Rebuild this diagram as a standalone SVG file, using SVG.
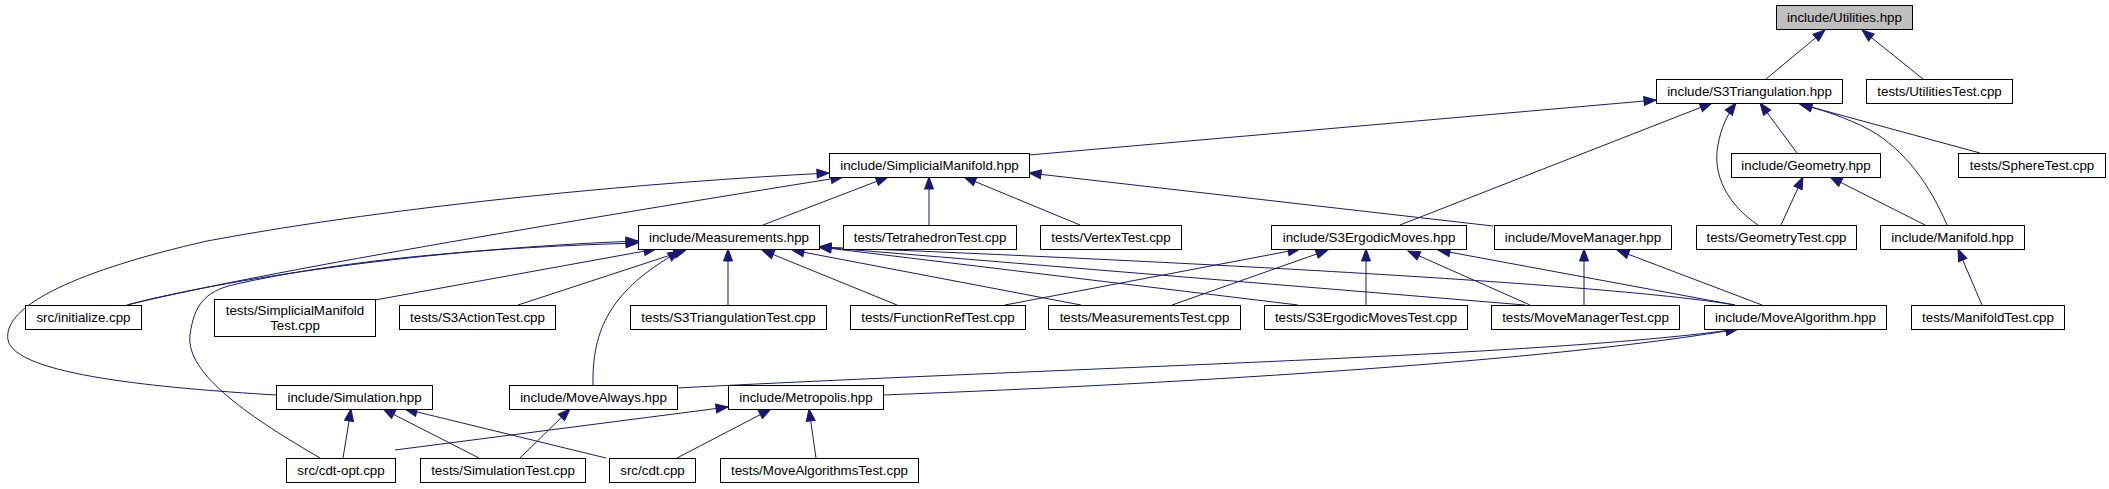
<svg xmlns="http://www.w3.org/2000/svg" width="2109" height="489" viewBox="0 0 2109 489">
<style>
.n rect{fill:#ffffff;stroke:#000000;stroke-width:1}
.n text{font-family:"Liberation Sans",Arial,Helvetica,sans-serif;font-size:13.33px;fill:#000000;text-anchor:middle}
#node-utilities rect{fill:#bfbfbf}
#edges path{fill:none;stroke:#191970;stroke-width:1;marker-end:url(#arr)}
</style>
<defs>
<marker id="arr" viewBox="0 0 12 10" refX="12" refY="5" markerWidth="12" markerHeight="10" markerUnits="userSpaceOnUse" orient="auto" overflow="visible">
<path d="M0,0.5 L12,5 L0,9.5 z" fill="#191970" stroke="#191970" stroke-width="1"/>
</marker>
</defs>
<rect width="2109" height="489" fill="#ffffff"/>
<g id="edges">
<path d="M1766,79 L1825,30"/>
<path d="M1923,79 L1862,30"/>
<path d="M1029,155 L1656,100"/>
<path d="M1400,225 L1712,103"/>
<path d="M1758,225 C1728,205 1712,175 1718,145 C1721,128 1727,115 1736,103"/>
<path d="M1797,153 L1760,103"/>
<path d="M1947,225 C1930,185 1905,150 1870,130 C1845,117 1822,110 1800,104"/>
<path d="M1980,153 L1800,104"/>
<path d="M1781,225 L1803,177"/>
<path d="M1925,225 L1830,177"/>
<path d="M1982,305 L1958,249"/>
<path d="M1493,226 L1029,173"/>
<path d="M1762,305 L1617,250"/>
<path d="M1584,305 L1584,249"/>
<path d="M1735,305 L1438,250"/>
<path d="M1366,305 L1366,249"/>
<path d="M1172,305 L1328,250"/>
<path d="M1005,305 L1300,249"/>
<path d="M1530,305 L1408,251"/>
<path d="M728,305 L728,249"/>
<path d="M897,305 L762,250"/>
<path d="M1081,305 L792,250"/>
<path d="M1298,305 L819,247"/>
<path d="M1525,305 L819,247"/>
<path d="M1735,305 C1600,282 1100,258 819,247"/>
<path d="M518,305 L686,250"/>
<path d="M375,300 L656,249"/>
<path d="M593,385 C592,330 610,290 680,251"/>
<path d="M127,305 C200,285 400,250 638,241"/>
<path d="M320,458 C255,420 185,375 190,335 C194,305 205,292 232,285 C350,258 500,247 638,243"/>
<path d="M127,305 C250,275 500,232 843,177"/>
<path d="M276,395 C160,388 15,375 8,340 C2,305 80,270 207,241 C400,205 650,182 829,173"/>
<path d="M763,225 L888,177"/>
<path d="M929,225 L929,177"/>
<path d="M1080,225 L964,177"/>
<path d="M343,458 L351,409"/>
<path d="M479,458 L383,409"/>
<path d="M606,458 L405,409"/>
<path d="M395,450 L728,407"/>
<path d="M677,458 L771,409"/>
<path d="M816,458 L809,409"/>
<path d="M520,458 L570,409"/>
<path d="M677,388 C1100,366 1550,356 1738,329"/>
<path d="M883,395 C1200,383 1560,360 1738,329"/>
</g>
<g id="node-utilities" class="n"><rect x="1776.5" y="5.5" width="136" height="24"/><text x="1844.5" y="22">include/Utilities.hpp</text></g>
<g id="node-s3triangulation" class="n"><rect x="1656.5" y="79.5" width="186" height="24"/><text x="1749.5" y="96">include/S3Triangulation.hpp</text></g>
<g id="node-utilitiestest" class="n"><rect x="1866.5" y="79.5" width="146" height="24"/><text x="1939.5" y="96">tests/UtilitiesTest.cpp</text></g>
<g id="node-simplicialmanifold" class="n"><rect x="829.5" y="153.5" width="200" height="24"/><text x="929.5" y="170">include/SimplicialManifold.hpp</text></g>
<g id="node-geometry" class="n"><rect x="1731.5" y="153.5" width="149" height="24"/><text x="1806" y="170">include/Geometry.hpp</text></g>
<g id="node-spheretest" class="n"><rect x="1958.5" y="153.5" width="147" height="24"/><text x="2032" y="170">tests/SphereTest.cpp</text></g>
<g id="node-measurements" class="n"><rect x="638.5" y="225.5" width="181" height="24"/><text x="729" y="242">include/Measurements.hpp</text></g>
<g id="node-tetrahedrontest" class="n"><rect x="843.5" y="225.5" width="173" height="24"/><text x="930" y="242">tests/TetrahedronTest.cpp</text></g>
<g id="node-vertextest" class="n"><rect x="1040.5" y="225.5" width="141" height="24"/><text x="1111" y="242">tests/VertexTest.cpp</text></g>
<g id="node-s3ergodicmoves" class="n"><rect x="1271.5" y="225.5" width="195" height="24"/><text x="1369" y="242">include/S3ErgodicMoves.hpp</text></g>
<g id="node-movemanager" class="n"><rect x="1494.5" y="225.5" width="177" height="24"/><text x="1583" y="242">include/MoveManager.hpp</text></g>
<g id="node-geometrytest" class="n"><rect x="1696.5" y="225.5" width="160" height="24"/><text x="1776.5" y="242">tests/GeometryTest.cpp</text></g>
<g id="node-manifold" class="n"><rect x="1880.5" y="225.5" width="144" height="24"/><text x="1952.5" y="242">include/Manifold.hpp</text></g>
<g id="node-initialize" class="n"><rect x="25.5" y="305.5" width="116" height="24"/><text x="83.5" y="322">src/initialize.cpp</text></g>
<g id="node-simplicialmanifoldtest" class="n"><rect x="214.5" y="299.5" width="161" height="37"/><text x="295" y="315">tests/SimplicialManifold</text><text x="295" y="330">Test.cpp</text></g>
<g id="node-s3actiontest" class="n"><rect x="399.5" y="305.5" width="156" height="24"/><text x="477.5" y="322">tests/S3ActionTest.cpp</text></g>
<g id="node-s3triangulationtest" class="n"><rect x="630.5" y="305.5" width="196" height="24"/><text x="728.5" y="322">tests/S3TriangulationTest.cpp</text></g>
<g id="node-functionreftest" class="n"><rect x="850.5" y="305.5" width="175" height="24"/><text x="938" y="322">tests/FunctionRefTest.cpp</text></g>
<g id="node-measurementstest" class="n"><rect x="1048.5" y="305.5" width="192" height="24"/><text x="1144.5" y="322">tests/MeasurementsTest.cpp</text></g>
<g id="node-s3ergodicmovestest" class="n"><rect x="1264.5" y="305.5" width="203" height="24"/><text x="1366" y="322">tests/S3ErgodicMovesTest.cpp</text></g>
<g id="node-movemanagertest" class="n"><rect x="1491.5" y="305.5" width="188" height="24"/><text x="1585.5" y="322">tests/MoveManagerTest.cpp</text></g>
<g id="node-movealgorithm" class="n"><rect x="1704.5" y="305.5" width="182" height="24"/><text x="1795.5" y="322">include/MoveAlgorithm.hpp</text></g>
<g id="node-manifoldtest" class="n"><rect x="1911.5" y="305.5" width="153" height="24"/><text x="1988" y="322">tests/ManifoldTest.cpp</text></g>
<g id="node-simulation" class="n"><rect x="276.5" y="385.5" width="156" height="24"/><text x="354.5" y="402">include/Simulation.hpp</text></g>
<g id="node-movealways" class="n"><rect x="509.5" y="385.5" width="168" height="24"/><text x="593.5" y="402">include/MoveAlways.hpp</text></g>
<g id="node-metropolis" class="n"><rect x="728.5" y="385.5" width="155" height="24"/><text x="806" y="402">include/Metropolis.hpp</text></g>
<g id="node-cdtopt" class="n"><rect x="286.5" y="458.5" width="109" height="24"/><text x="341" y="475">src/cdt-opt.cpp</text></g>
<g id="node-simulationtest" class="n"><rect x="420.5" y="458.5" width="165" height="24"/><text x="503" y="475">tests/SimulationTest.cpp</text></g>
<g id="node-cdt" class="n"><rect x="609.5" y="458.5" width="86" height="24"/><text x="652.5" y="475">src/cdt.cpp</text></g>
<g id="node-movealgorithmstest" class="n"><rect x="720.5" y="458.5" width="198" height="24"/><text x="819.5" y="475">tests/MoveAlgorithmsTest.cpp</text></g>
</svg>
